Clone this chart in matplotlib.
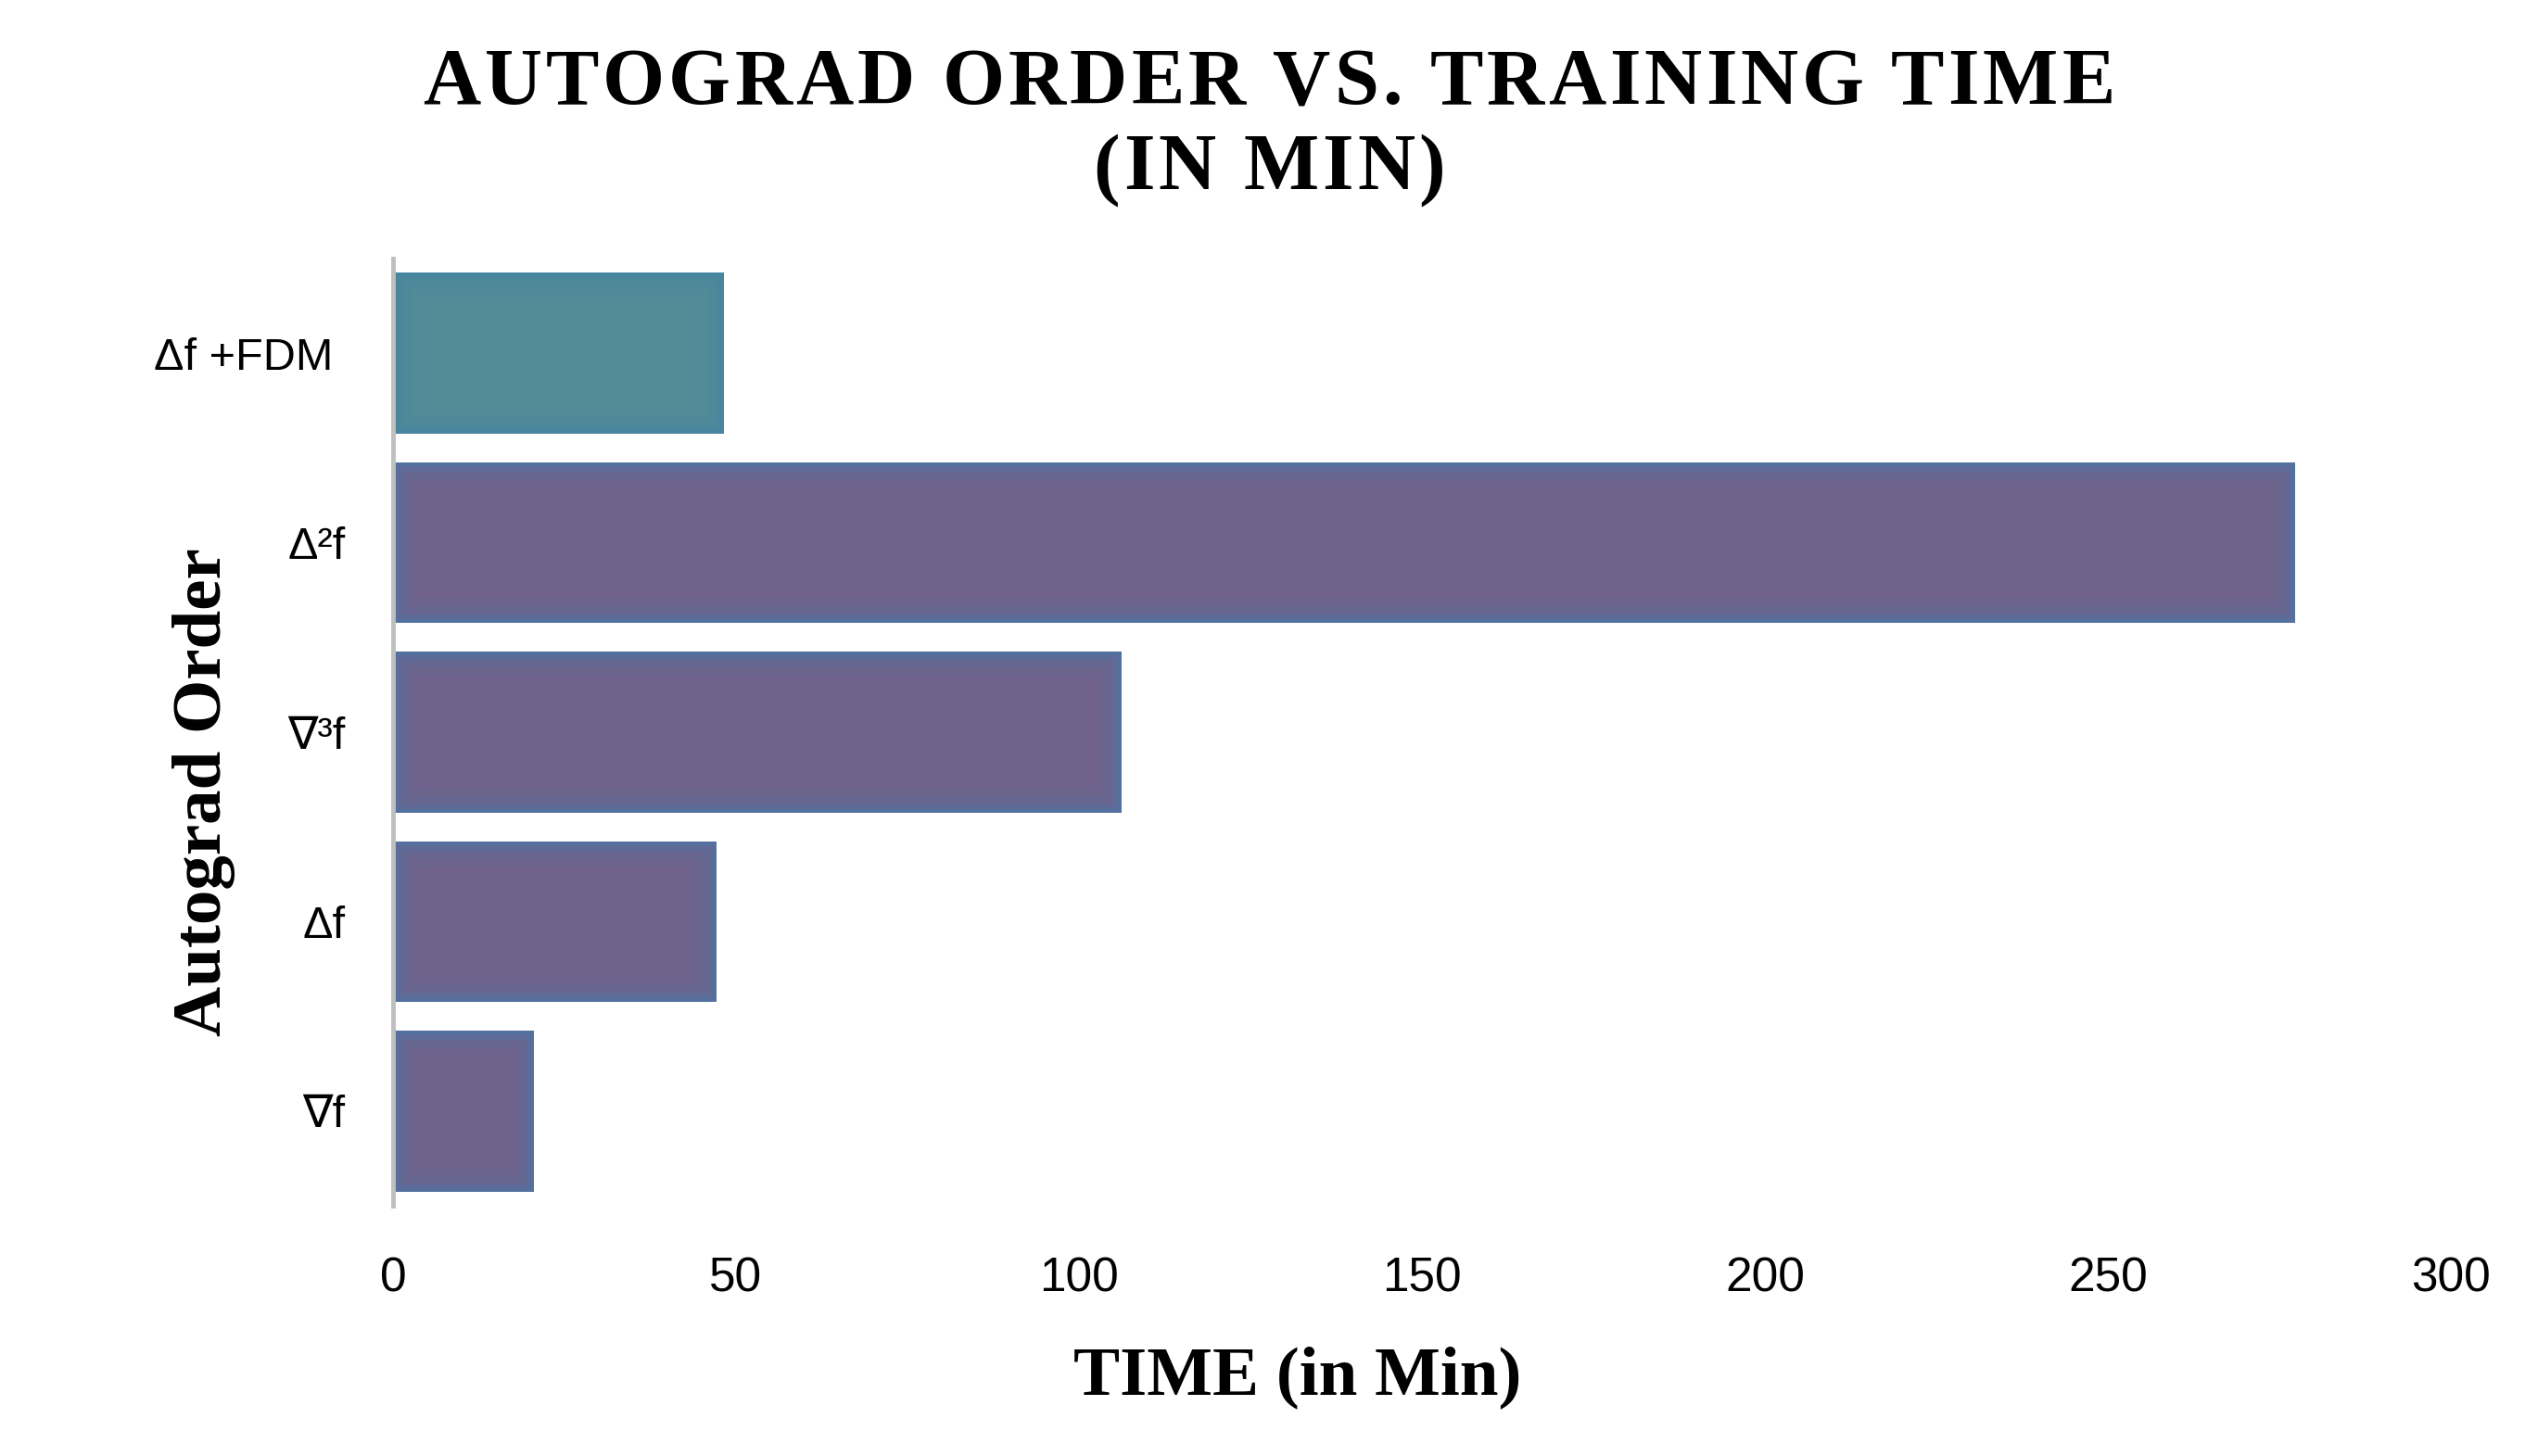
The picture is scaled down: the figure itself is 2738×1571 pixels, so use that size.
import matplotlib
matplotlib.use('Agg')
import matplotlib.pyplot as plt
from matplotlib.patches import Rectangle

# Data (bottom to top)
orders = ['∇f', 'Δf', '∇³f', 'Δ²f', 'Δf +FDM ']
train_time = [20.5, 47.2, 106.2, 277.3, 48.3]
fill_colors = ['#71628B', '#71628B', '#71628B', '#71628B', '#538B97']
edge_colors = ['#4A77A8', '#4A77A8', '#4A77A8', '#4A77A8', '#4485A5']
x_ticks = [0, 50, 100, 150, 200, 250, 300]
title_lines = ['AUTOGRAD ORDER VS. TRAINING TIME', '(IN MIN)']

serif = 'Liberation Serif'
sans = ['Liberation Sans', 'DejaVu Sans']
W, H = 2738, 1571

fig = plt.figure(figsize=(W / 100, H / 100), dpi=100)
ax = fig.add_axes([424 / W, 1 - 1301 / H, (2644 - 424) / W, (1301 - 279) / H])

bars = ax.barh(range(len(orders)), train_time, height=0.85, color=fill_colors,
               edgecolor='none', zorder=2)

# soft inner glow along the bar edges
for bar, ec in zip(bars, edge_colors):
    for lw, a in [(40, 0.1), (26, 0.15), (14, 0.28), (6, 0.5)]:
        r = Rectangle(bar.get_xy(), bar.get_width(), bar.get_height(), fill=False,
                      edgecolor=ec, linewidth=lw, alpha=a, zorder=3)
        ax.add_patch(r)
        r.set_clip_path(bar)

ax.set_xlim(0, 300)
ax.set_ylim(-0.5, 4.5)
ax.set_xticks(x_ticks)
ax.set_yticks(range(len(orders)))
ax.set_yticklabels(orders)

for s in ['top', 'right', 'bottom']:
    ax.spines[s].set_visible(False)
ax.spines['left'].set_color('#BFBFBF')
ax.spines['left'].set_linewidth(3.5)
ax.spines['left'].set_zorder(5)

ax.tick_params(axis='x', length=0, pad=39, labelsize=37)
ax.tick_params(axis='y', length=0, pad=37, labelsize=35)
for lab in ax.get_xticklabels() + ax.get_yticklabels():
    lab.set_fontfamily(sans)


def tracked_title(s, y_base, track, size):
    # letter-spaced text, centred on the figure
    rend = fig.canvas.get_renderer()
    probe = fig.text(0, 0, 'I', fontsize=size, fontweight='bold', family=serif)
    w_i = probe.get_window_extent(rend).width
    adv = []
    for c in s:
        probe.set_text(c + 'I')
        adv.append(probe.get_window_extent(rend).width - w_i)
    probe.remove()
    total = sum(adv) + track * (len(s) - 1)
    x = W / 2 - total / 2
    for c, a in zip(s, adv):
        fig.text(x / W, y_base, c, ha='left', va='baseline', fontsize=size,
                 fontweight='bold', family=serif)
        x += a + track


tracked_title(title_lines[0], 1 - 112 / H, 4, 62)
tracked_title(title_lines[1], 1 - 204 / H, 4, 62)

fig.text(1400 / W, 1 - 1486 / H, 'TIME (in Min)', ha='center', va='center',
         fontsize=54, fontweight='bold', family=serif)
fig.text(220 / W, 1 - 855 / H, 'Autograd Order', ha='center', va='center',
         rotation=90, fontsize=54, fontweight='bold', family=serif)

fig.savefig('out.png', dpi=100, facecolor='white')
